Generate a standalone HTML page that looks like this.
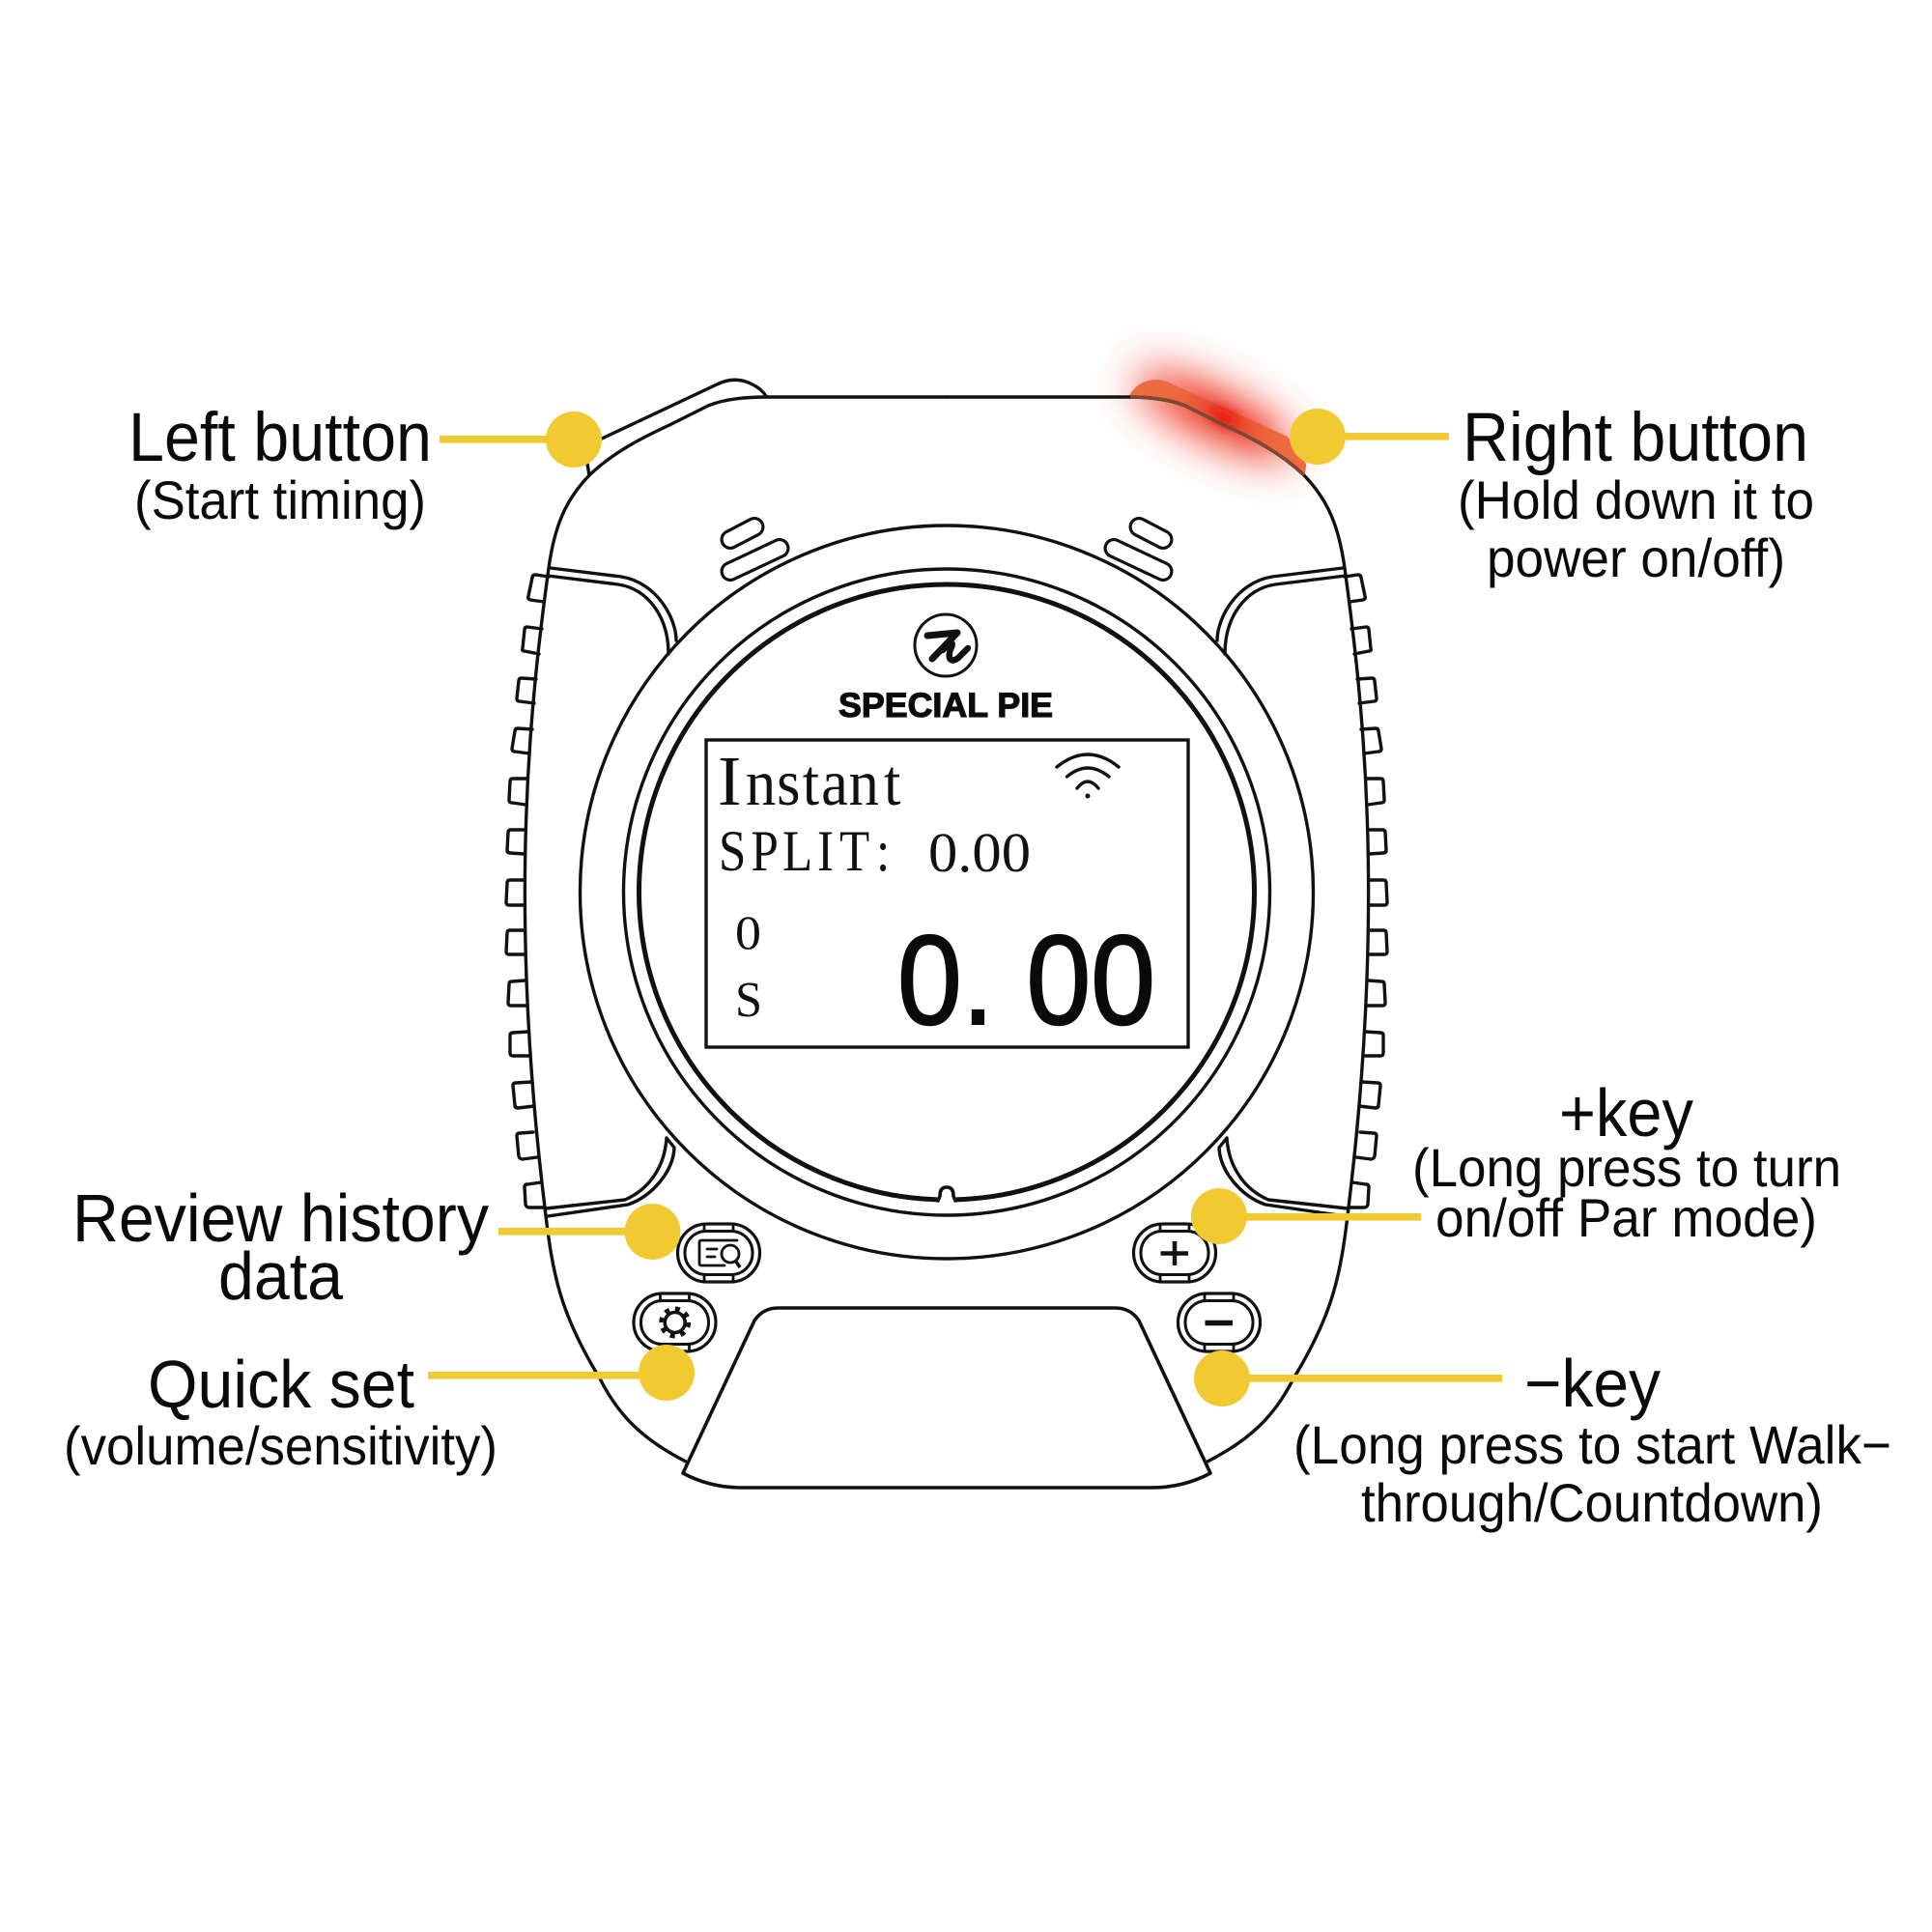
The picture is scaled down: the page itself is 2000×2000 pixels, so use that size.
<!DOCTYPE html>
<html><head><meta charset="utf-8"><style>html,body{margin:0;padding:0;background:#fff}svg{display:block}
.s{font-family:"Liberation Sans",sans-serif;fill:#0a0a0a}
.t{font-family:"Liberation Serif",serif;fill:#111}
.l{fill:none;stroke:#111;stroke-width:3.4;stroke-linejoin:round;stroke-linecap:round}
</style></head><body>
<svg xmlns="http://www.w3.org/2000/svg" width="2000" height="2000" viewBox="0 0 2000 2000">
<defs>
<filter id="b0" x="-60%" y="-200%" width="220%" height="500%"><feGaussianBlur stdDeviation="22"/></filter>
<filter id="b1" x="-100%" y="-300%" width="300%" height="700%"><feGaussianBlur stdDeviation="11"/></filter>
<filter id="b2" x="-150%" y="-200%" width="400%" height="500%"><feGaussianBlur stdDeviation="6"/></filter>
<g id="half">
<path class="l" d="M568 597L555 595Q551 595 551 598L547 617Q546 620 549 621L563 623"/>
<path class="l" d="M561 651L546 649Q543 649 543 652L541 671Q540 674 543 674L558 677"/>
<path class="l" d="M555 703L540 702Q537 702 537 705L535 723Q535 726 538 726L553 728"/>
<path class="l" d="M551 755L536 754Q533 754 533 757L530 775Q530 778 533 778L548 780"/>
<path class="l" d="M546 806L531 806Q528 806 528 809L527 828Q527 831 530 831L544 833"/>
<path class="l" d="M543 859L529 859Q526 859 526 862L525 880Q525 883 528 883L543 884"/>
<path class="l" d="M542 911L528 911Q525 911 525 914L524 934Q524 937 527 937L542 937"/>
<path class="l" d="M542 963L528 963Q525 963 525 966L524 985Q524 988 527 988L543 988"/>
<path class="l" d="M543 1015L530 1016Q527 1016 527 1019L526 1038Q526 1041 529 1041L545 1041"/>
<path class="l" d="M547 1068L531 1069Q528 1069 528 1072L528 1090Q528 1093 531 1093L549 1093"/>
<path class="l" d="M550 1120L534 1121Q531 1121 531 1124L533 1144Q533 1147 536 1147L553 1145"/>
<path class="l" d="M552 1172L538 1173Q535 1173 535 1176L537 1197Q538 1200 541 1200L556 1198"/>
<path class="l" d="M560 1224L546 1226Q543 1226 543 1229L544 1247Q545 1250 548 1250L563 1250"/>
<path class="l" d="M980 411L793 411C770 411 750 413 733 420L693 440C665 453 635 468 610 492C585 518 574 545 568 588C550 720 525 930 564 1250C572 1320 580 1360 621 1427C640 1465 665 1490 710 1513"/>
<path class="l" d="M570 588L643 597C680 603 700 640 700 663"/>
<path class="l" d="M567 596L640 605C672 610 692 640 692 677"/>
<path class="l" d="M565 1251L647 1242C670 1232 688 1210 690 1178L698 1188C697 1212 676 1238 650 1247L567 1259"/>
<line x1="756" y1="558.5" x2="781" y2="545.5" stroke="#111" stroke-width="21" stroke-linecap="round"/>
<line x1="756" y1="558.5" x2="781" y2="545.5" stroke="#fff" stroke-width="14.6" stroke-linecap="round"/>
<line x1="756" y1="591.5" x2="807" y2="567.5" stroke="#111" stroke-width="21" stroke-linecap="round"/>
<line x1="756" y1="591.5" x2="807" y2="567.5" stroke="#fff" stroke-width="14.6" stroke-linecap="round"/>
</g>
<g id="btn">
<rect x="-42.5" y="-30" width="85" height="60" rx="30" ry="30" fill="#fff" stroke="#111" stroke-width="3.2"/>
<rect x="-35" y="-22.5" width="70" height="45" rx="22" ry="22" fill="#fff" stroke="#111" stroke-width="3"/>
<path class="l" style="stroke-width:2.8" d="M-15 -29L-15 -23M15 -29L15 -23M-15 23L-15 29M15 23L15 29"/>
</g>
</defs>
<rect width="2000" height="2000" fill="#fff"/>

<!-- right button -->
<ellipse cx="1258" cy="430" rx="92" ry="28" transform="rotate(26 1258 430)" fill="#f04a38" filter="url(#b0)"/>
<path d="M1168 411Q1178 393 1197 393Q1206 393 1214 398L1333 452L1352 480Q1352 488 1350 492C1325 468 1295 453 1267 440L1227 420C1210 413 1190 411 1168 411Z" fill="#ec6b40"/>
<line x1="1238" y1="416" x2="1298" y2="447" stroke="#e8261c" stroke-width="16" stroke-linecap="round" opacity=".7" filter="url(#b1)"/>
<ellipse cx="1267" cy="432" rx="16" ry="7" transform="rotate(26 1267 432)" fill="#e81010" filter="url(#b2)"/>

<!-- left button -->
<path class="l" d="M623 454L742 398Q760 389 777 397Q788 402 793 410"/>
<path class="l" d="M608 480L610 492"/>

<use href="#half"/>
<use href="#half" transform="matrix(-1 0 0 1 1960 0)"/>
<path d="M1170 411C1190 411 1210 413 1227 420L1267 440C1295 453 1325 468 1350 492" fill="none" stroke="#7c4a34" stroke-width="3.6"/>

<circle cx="980" cy="923.5" r="379.5" fill="none" stroke="#111" stroke-width="3.4"/>
<circle cx="980" cy="923.5" r="334.5" fill="none" stroke="#111" stroke-width="3.4"/>
<circle cx="980" cy="923.5" r="318.5" fill="none" stroke="#111" stroke-width="5"/>
<rect x="970" y="1232" width="20" height="16" fill="#fff"/>
<path class="l" style="stroke-width:3.6" d="M971 1243L973 1238Q973 1229 980 1229Q987 1229 987 1238L989 1243"/>

<!-- stand -->
<path d="M707 1525L781 1367Q790 1354 805 1354L1155 1354Q1170 1354 1179 1367L1253 1525Q1225 1540 1192 1540L768 1540Q735 1540 707 1525Z" fill="#fff" stroke="#111" stroke-width="3.6" stroke-linejoin="round"/>

<!-- logo -->
<ellipse cx="979" cy="668" rx="32" ry="32" fill="none" stroke="#111" stroke-width="3"/>
<path d="M960 658L991 655L965 682" fill="none" stroke="#111" stroke-width="7" stroke-linecap="round" stroke-linejoin="round"/>
<path d="M976 673C985 663 988 664 984 672C980 684 986 686 992 681L1002 671" fill="none" stroke="#111" stroke-width="6.5" stroke-linecap="round" stroke-linejoin="round"/>
<text class="s" x="868" y="742" font-size="35" font-weight="700" textLength="222" lengthAdjust="spacingAndGlyphs" stroke="#111" stroke-width="1.2">SPECIAL PIE</text>

<!-- screen -->
<rect x="731" y="766" width="499" height="318" fill="#fff" stroke="#111" stroke-width="3.4"/>
<text class="t" x="743" y="833" font-size="73">I</text>
<text class="t" transform="translate(0 833) scale(.92 1)" y="0" font-size="68" x="839 874 903 924 955 994.6">nstant</text>
<text class="t" transform="translate(0 901) scale(.85 1)" y="0" font-size="60" x="875.3 914.7 952.9 995.3 1022.4 1067">SPLIT:</text>
<text class="t" x="961" y="902" font-size="58" textLength="106" lengthAdjust="spacingAndGlyphs">0.00</text>
<text class="t" x="761" y="982" font-size="50" textLength="27" lengthAdjust="spacingAndGlyphs">0</text>
<text class="t" x="761" y="1052" font-size="52" textLength="28" lengthAdjust="spacingAndGlyphs">S</text>
<text class="s" x="929" y="1060" font-size="132" textLength="267" lengthAdjust="spacingAndGlyphs" stroke="#0a0a0a" stroke-width="2">0. 00</text>
<path class="l" d="M1094 794Q1126 768 1158 794M1104.5 804Q1126 786 1148 804M1115 816Q1126 802 1137 816"/>
<circle cx="1126" cy="824" r="2.5" fill="#111"/>

<!-- buttons -->
<use href="#btn" x="744" y="1297"/>
<use href="#btn" x="698.5" y="1369"/>
<use href="#btn" x="1216" y="1297"/>
<use href="#btn" x="1262" y="1369"/>
<path class="l" style="stroke-width:2.8" d="M763 1284L726 1284Q724 1284 724 1286L724 1308Q724 1310 726 1310L750 1310"/>
<path class="l" style="stroke-width:2.8" d="M732 1293L742 1293M732 1301L740 1301"/>
<circle cx="756" cy="1298" r="9" fill="#fff" stroke="#111" stroke-width="2.8"/>
<line x1="762" y1="1306" x2="766" y2="1312" stroke="#111" stroke-width="3.6"/>
<circle cx="698.7" cy="1369" r="10.5" fill="none" stroke="#111" stroke-width="3.6"/>
<circle cx="698.7" cy="1369" r="14" fill="none" stroke="#111" stroke-width="5" stroke-dasharray="5 6"/>
<path d="M1201.5 1297.5H1230M1216 1285V1310" stroke="#111" stroke-width="4.5" fill="none"/>
<path d="M1247.5 1369.5H1276" stroke="#111" stroke-width="5.5" fill="none"/>

<!-- connectors -->
<g fill="#f1ca31">
<rect x="455" y="451" width="140" height="7.6"/><circle cx="594" cy="455" r="29"/>
<rect x="1364" y="448" width="136" height="7.6"/><circle cx="1364" cy="452" r="29"/>
<rect x="516" y="1271" width="160" height="7.6"/><circle cx="675.5" cy="1275" r="29"/>
<rect x="443" y="1420" width="247" height="7.6"/><circle cx="690" cy="1421" r="29"/>
<rect x="1262" y="1256" width="209" height="7.6"/><circle cx="1262" cy="1259" r="29"/>
<rect x="1265" y="1423" width="290" height="7.6"/><circle cx="1265" cy="1427" r="29"/>
</g>

<!-- labels -->
<g class="s">
<text x="133" y="477" font-size="71" textLength="314" lengthAdjust="spacingAndGlyphs">Left button</text>
<text x="139" y="537" font-size="56" textLength="302" lengthAdjust="spacingAndGlyphs">(Start timing)</text>
<text x="1514" y="477" font-size="71" textLength="358" lengthAdjust="spacingAndGlyphs">Right button</text>
<text x="1509" y="537" font-size="56" textLength="369" lengthAdjust="spacingAndGlyphs">(Hold down it to</text>
<text x="1539" y="597" font-size="56" textLength="309" lengthAdjust="spacingAndGlyphs">power on/off)</text>
<text x="75" y="1285" font-size="70" textLength="431" lengthAdjust="spacingAndGlyphs">Review history</text>
<text x="226" y="1345" font-size="70" textLength="129" lengthAdjust="spacingAndGlyphs">data</text>
<text x="153" y="1457" font-size="70" textLength="276" lengthAdjust="spacingAndGlyphs">Quick set</text>
<text x="66" y="1516" font-size="56" textLength="449" lengthAdjust="spacingAndGlyphs">(volume/sensitivity)</text>
<text x="1614" y="1176" font-size="70" textLength="139" lengthAdjust="spacingAndGlyphs">+key</text>
<text x="1462" y="1228" font-size="56" textLength="444" lengthAdjust="spacingAndGlyphs">(Long press to turn</text>
<text x="1486" y="1280" font-size="56" textLength="395" lengthAdjust="spacingAndGlyphs">on/off Par mode)</text>
<text x="1578" y="1456" font-size="70" textLength="141" lengthAdjust="spacingAndGlyphs">−key</text>
<text x="1339" y="1515" font-size="56" textLength="619" lengthAdjust="spacingAndGlyphs">(Long press to start Walk−</text>
<text x="1409" y="1575" font-size="56" textLength="478" lengthAdjust="spacingAndGlyphs">through/Countdown)</text>
</g>
</svg>
</body></html>
